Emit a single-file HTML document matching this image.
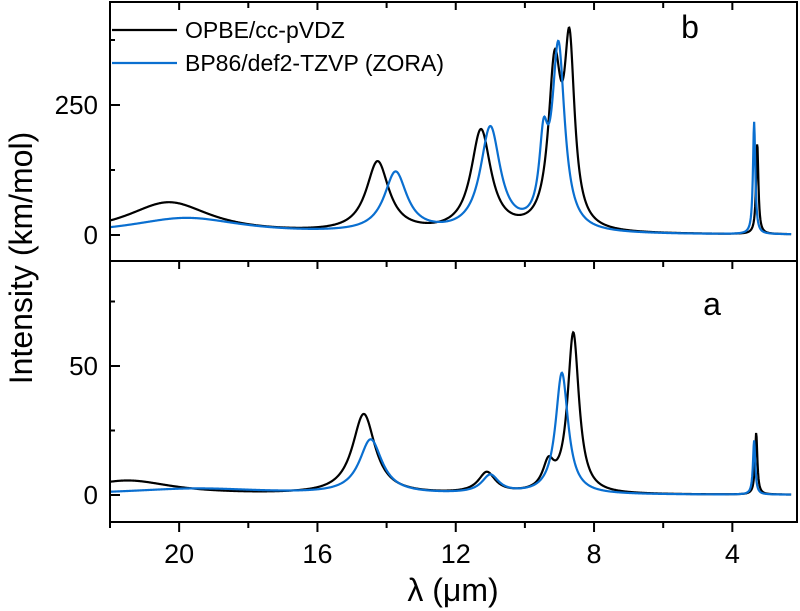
<!DOCTYPE html>
<html><head><meta charset="utf-8"><style>
html,body{margin:0;padding:0;background:#fff;}
svg{display:block;font-family:"Liberation Sans",Arial,sans-serif;}
</style></head><body>
<svg id="chart" width="800" height="611" viewBox="0 0 800 611"></svg>
<script>
// ---- data (peak lists) ----
const topBlackCenters=[20.3,14.26,11.27,9.14,8.71,3.28];
const topBlackAmps=[62,135,195,300,330,175];
const topBlackWidths=[1.5,0.4,0.35,0.22,0.18,0.04];
const topBlueCenters=[19.8,13.74,11.0,9.46,9.03,3.37];
const topBlueAmps=[32,115,200,140,350,216];
const topBlueWidths=[2.0,0.4,0.35,0.15,0.22,0.04];
const botBlackCenters=[21.5,14.66,11.1,9.32,8.6,3.31];
const botBlackAmps=[5.5,31,8,10,62,24];
const botBlackWidths=[1.6,0.4,0.3,0.2,0.2,0.04];
const botBlueCenters=[19.5,14.46,11.0,8.93,3.37];
const botBlueAmps=[2.4,21,7,47,21];
const botBlueWidths=[2.5,0.4,0.3,0.22,0.04];
const xTicks=[20,16,12,8,4];
const xMinor=[22,18,14,10,6];
const topYTicks=[0,250];
const topYMinor=[125,375];
const botYTicks=[0,50];
const botYMinor=[25,75];

const NS="http://www.w3.org/2000/svg";
const svg=document.getElementById('chart');
const L=110,R=797,T=2,MID=261,B=522;
const LMAX=22,LMIN=2.13;
function xs(l){return L+(LMAX-l)/(LMAX-LMIN)*(R-L);}
function ysTop(v){return 235-v*0.52;}
function ysBot(v){return 495-v*2.58;}
function mk(tag,attrs){const e=document.createElementNS(NS,tag);for(const k in attrs)e.setAttribute(k,attrs[k]);svg.appendChild(e);return e;}
function spec(c,a,w,l){let s=0;for(let i=0;i<c.length;i++){const d=(l-c[i])/w[i];s+=a[i]/(1+d*d);}return s;}
function path(c,a,w,ys){let d='';const N=1400;for(let i=0;i<=N;i++){const l=LMAX-(LMAX-2.3)*i/N;d+=(i?'L':'M')+xs(l).toFixed(2)+','+ys(spec(c,a,w,l)).toFixed(2);}return d;}

const defs=mk('defs',{});
const cp1=document.createElementNS(NS,'clipPath');cp1.setAttribute('id','c1');defs.appendChild(cp1);
const r1=document.createElementNS(NS,'rect');r1.setAttribute('x',L);r1.setAttribute('y',T);r1.setAttribute('width',R-L);r1.setAttribute('height',MID-T);cp1.appendChild(r1);
const cp2=document.createElementNS(NS,'clipPath');cp2.setAttribute('id','c2');defs.appendChild(cp2);
const r2=document.createElementNS(NS,'rect');r2.setAttribute('x',L);r2.setAttribute('y',MID);r2.setAttribute('width',R-L);r2.setAttribute('height',B-MID);cp2.appendChild(r2);

let e;
e=mk('path',{d:path(topBlackCenters,topBlackAmps,topBlackWidths,ysTop),fill:'none',stroke:'#000','stroke-width':2.2,'clip-path':'url(#c1)'});


e=mk('path',{d:path(topBlueCenters,topBlueAmps,topBlueWidths,ysTop),fill:'none',stroke:'#0a6fd0','stroke-width':2.2,'clip-path':'url(#c1)'});


e=mk('path',{d:path(botBlackCenters,botBlackAmps,botBlackWidths,ysBot),fill:'none',stroke:'#000','stroke-width':2.2,'clip-path':'url(#c2)'});


e=mk('path',{d:path(botBlueCenters,botBlueAmps,botBlueWidths,ysBot),fill:'none',stroke:'#0a6fd0','stroke-width':2.2,'clip-path':'url(#c2)'});



e=mk('rect',{x:L,y:T,width:R-L,height:B-T,fill:'none',stroke:'#000','stroke-width':2});


e=mk('line',{x1:L,x2:R,y1:MID,y2:MID,stroke:'#000','stroke-width':2});



xTicks.forEach(t=>{const x=xs(t);
 mk('line',{x1:x,x2:x,y1:B,y2:B+10,stroke:'#000','stroke-width':2});
 mk('line',{x1:x,x2:x,y1:T,y2:T+8,stroke:'#000','stroke-width':2});
 mk('line',{x1:x,x2:x,y1:MID,y2:MID+8,stroke:'#000','stroke-width':2});
 e=mk('text',{x:x,y:563,'font-size':27,'text-anchor':'middle'});e.textContent=t;
 
 
});
xMinor.forEach(t=>{const x=xs(t);
 mk('line',{x1:x,x2:x,y1:B,y2:B+6,stroke:'#000','stroke-width':2});
 mk('line',{x1:x,x2:x,y1:T,y2:T+6,stroke:'#000','stroke-width':2});
 mk('line',{x1:x,x2:x,y1:MID,y2:MID+6,stroke:'#000','stroke-width':2});
});
topYTicks.forEach(t=>{const y=ysTop(t);mk('line',{x1:L,x2:L+10,y1:y,y2:y,stroke:'#000','stroke-width':2});
 e=mk('text',{x:98,y:y+9,'font-size':26,'text-anchor':'end'});e.textContent=t;
 
 });
topYMinor.forEach(t=>{const y=ysTop(t);mk('line',{x1:L,x2:L+5,y1:y,y2:y,stroke:'#000','stroke-width':2});});
botYTicks.forEach(t=>{const y=ysBot(t);mk('line',{x1:L,x2:L+10,y1:y,y2:y,stroke:'#000','stroke-width':2});
 e=mk('text',{x:98,y:y+9,'font-size':26,'text-anchor':'end'});e.textContent=t;
 
 });
botYMinor.forEach(t=>{const y=ysBot(t);mk('line',{x1:L,x2:L+5,y1:y,y2:y,stroke:'#000','stroke-width':2});});

e=mk('text',{x:453,y:601,'font-size':32,'text-anchor':'middle'});e.textContent='λ (μm)';


e=mk('text',{x:0,y:0,'font-size':32,'text-anchor':'middle',transform:'translate(32,258) rotate(-90)'});e.textContent='Intensity (km/mol)';


e=mk('text',{x:690,y:38,'font-size':32,'text-anchor':'middle'});e.textContent='b';


e=mk('text',{x:712,y:315,'font-size':32,'text-anchor':'middle'});e.textContent='a';



e=mk('line',{x1:112,x2:177,y1:30,y2:30,stroke:'#000','stroke-width':2.2});


e=mk('text',{x:185,y:38,'font-size':23});e.textContent='OPBE/cc-pVDZ';


e=mk('line',{x1:112,x2:177,y1:63,y2:63,stroke:'#0a6fd0','stroke-width':2.2});


e=mk('text',{x:185,y:71,'font-size':23});e.textContent='BP86/def2-TZVP (ZORA)';


</script>
</body></html>
